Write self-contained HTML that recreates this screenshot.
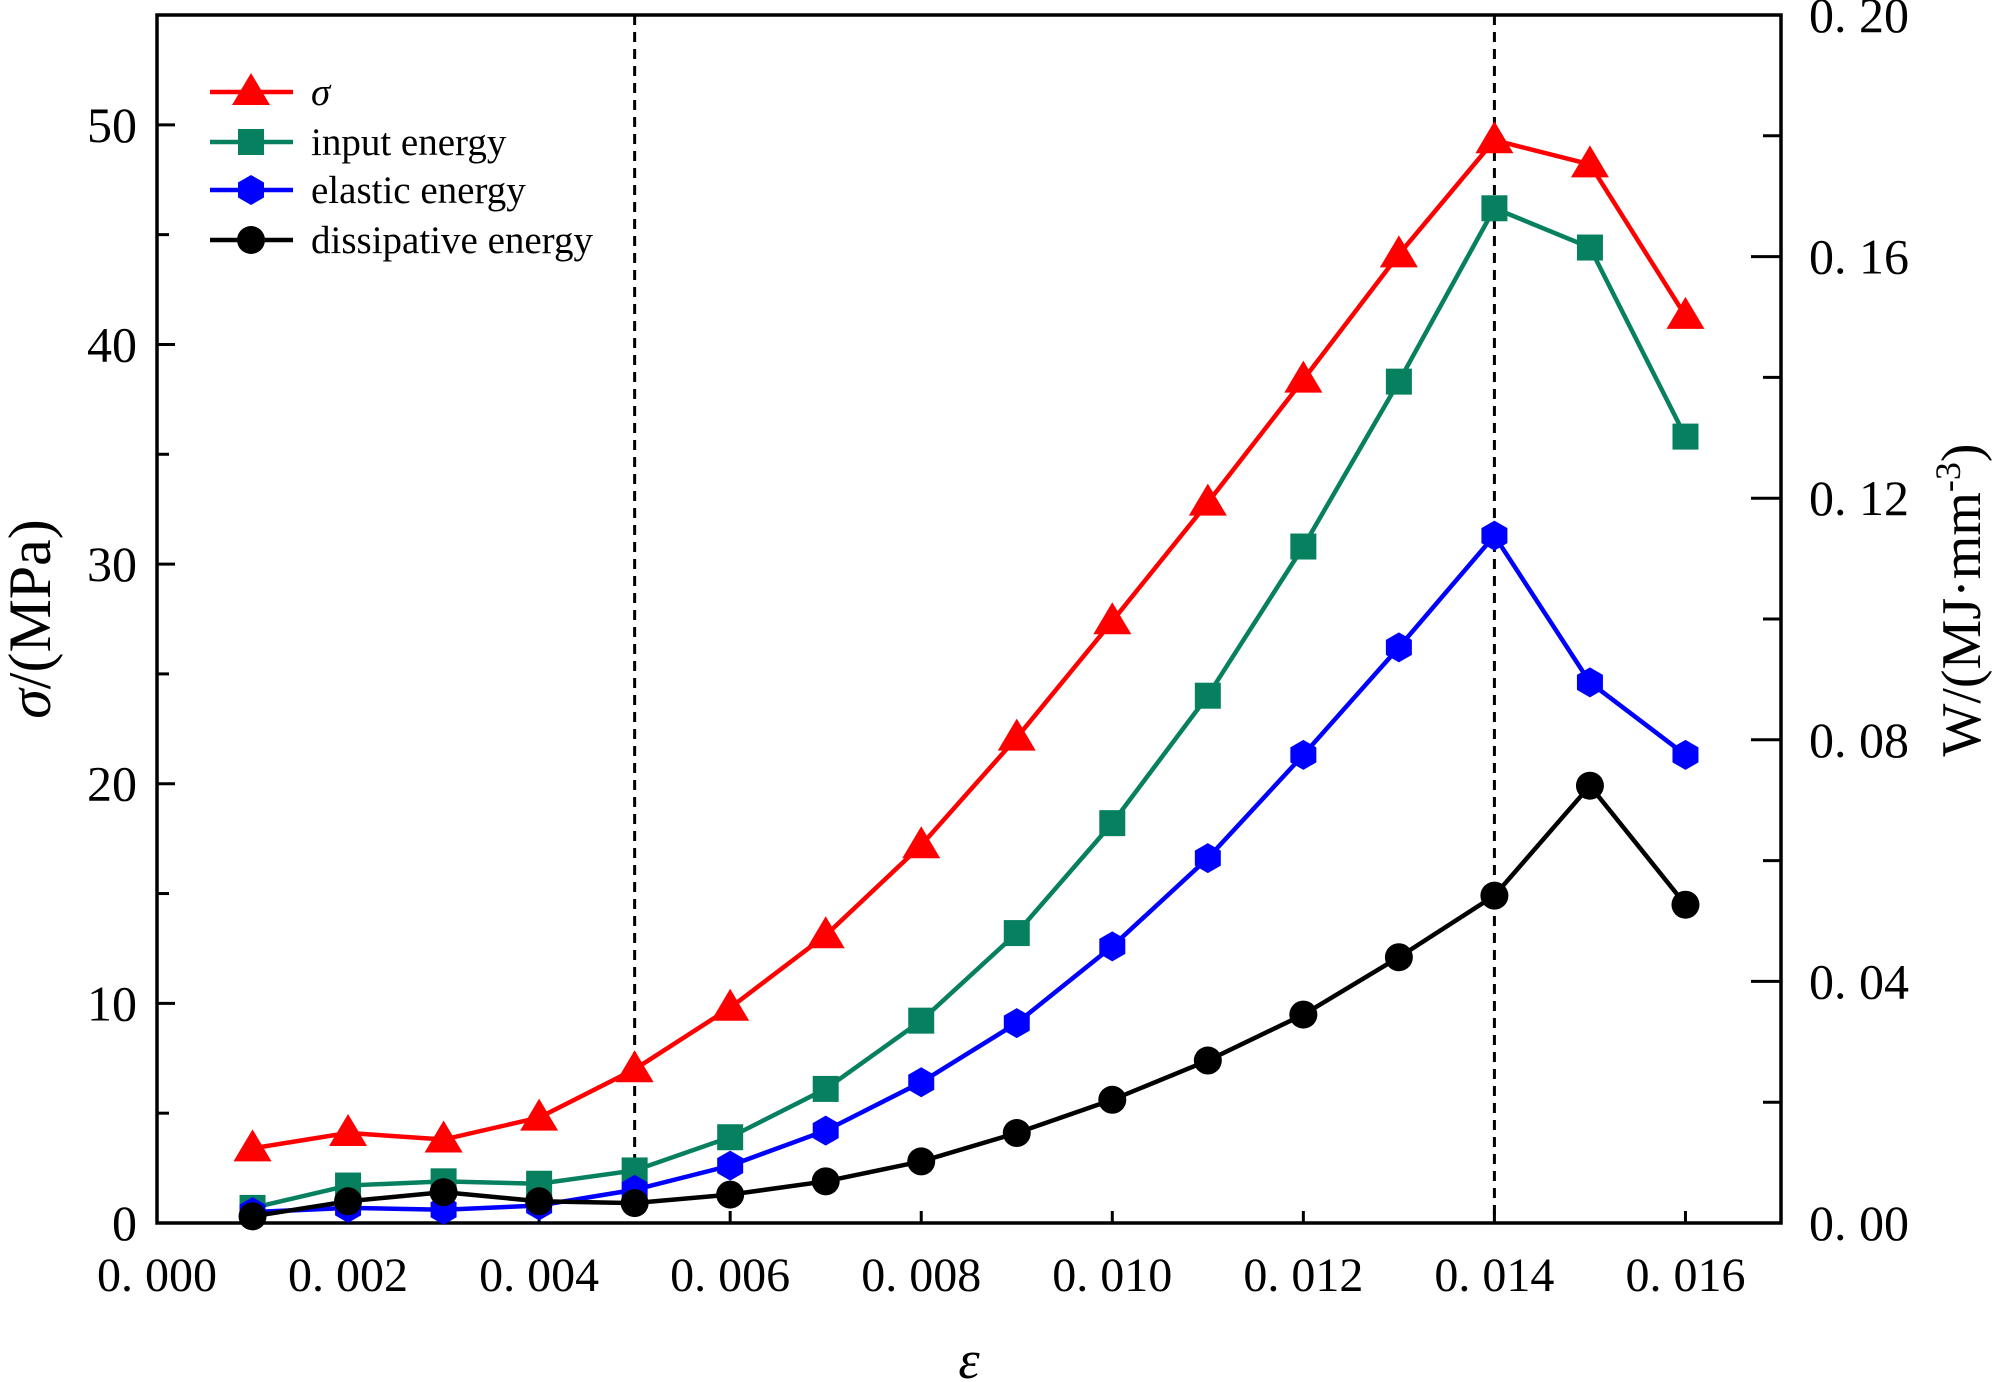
<!DOCTYPE html>
<html><head><meta charset="utf-8"><style>
html,body{margin:0;padding:0;background:#fff;}
svg{display:block;font-family:"Liberation Serif","Noto Serif CJK SC",serif;}
</style></head><body>
<svg id="chart" width="2000" height="1382" viewBox="0 0 2000 1382" xmlns="http://www.w3.org/2000/svg"></svg>
<script>
const strain=[0.001,0.002,0.003,0.004,0.005,0.006,0.007,0.008,0.009,0.010,0.011,0.012,0.013,0.014,0.015,0.016];
const stress=[3.4,4.1,3.8,4.8,7.0,9.8,13.1,17.2,22.1,27.4,32.8,38.4,44.1,49.3,48.2,41.3];
const inputEnergy=[0.0025,0.0062,0.0069,0.0065,0.0087,0.0142,0.0222,0.0335,0.048,0.0662,0.0873,0.112,0.1393,0.168,0.1615,0.1302];
const elasticEnergy=[0.0018,0.0025,0.0022,0.0029,0.0055,0.0095,0.0153,0.0233,0.0331,0.0458,0.0604,0.0775,0.0953,0.1138,0.0895,0.0775];
const dissipEnergy=[0.0011,0.0036,0.0051,0.0036,0.0033,0.0047,0.0069,0.0102,0.0149,0.0204,0.0269,0.0345,0.044,0.0542,0.0724,0.0527];
const xTicks=[0,0.002,0.004,0.006,0.008,0.010,0.012,0.014,0.016];
const xTickLabels=["0.000","0.002","0.004","0.006","0.008","0.010","0.012","0.014","0.016"];
const yTicks=[0,10,20,30,40,50];
const y2Ticks=[0,0.04,0.08,0.12,0.16,0.20];
const y2TickLabels=["0.00","0.04","0.08","0.12","0.16","0.20"];
const markLines=[0.005,0.014];

const L=157,R=1781,T=15,B=1223;
const X=v=>L+v/0.017*(R-L);
const Y=v=>B-v/55*(B-T);
const Y2=v=>B-v/0.2*(B-T);
const svg=document.getElementById('chart');
const NS='http://www.w3.org/2000/svg';
function mk(tag,attrs,parent){const e=document.createElementNS(NS,tag);for(const k in attrs)e.setAttribute(k,attrs[k]);(parent||svg).appendChild(e);return e;}

markLines.forEach(v=>{const e=mk('line',{x1:X(v),x2:X(v),y1:T,y2:B,stroke:'#000','stroke-width':3,'stroke-dasharray':'10,7'});

});

xTicks.forEach((v,i)=>{mk('line',{x1:X(v),x2:X(v),y1:B,y2:B-12,stroke:'#000','stroke-width':3});
const t=mk('text',{x:X(v),y:B+68,'font-size':48,'text-anchor':'middle'});t.textContent=xTickLabels[i].replace('.','. ');

});
for(let v=5;v<=55;v+=5){mk('line',{x1:L,x2:L+(v%10==0?18:12),y1:Y(v),y2:Y(v),stroke:'#000','stroke-width':3});}
yTicks.forEach(v=>{const t=mk('text',{x:L-20,y:Y(v)+17,'font-size':50,'text-anchor':'end'});t.textContent=v;

});
for(let v=0.02;v<0.2;v+=0.02){const maj=Math.round(v*100)%4==0;mk('line',{x1:R,x2:R-(maj?30:18),y1:Y2(v),y2:Y2(v),stroke:'#000','stroke-width':3});}
y2Ticks.forEach((v,i)=>{const t=mk('text',{x:R+28,y:Y2(v)+17,'font-size':50});t.textContent=y2TickLabels[i].replace('.','. ');

});

const fr=mk('rect',{x:L,y:T,width:R-L,height:B-T,fill:'none',stroke:'#000','stroke-width':3.5});



function marker(type,x,y,color,g){
 if(type=='tri')mk('polygon',{points:`${x},${y-19} ${x-19},${y+13} ${x+19},${y+13}`,fill:color},g);
 else if(type=='sq')mk('rect',{x:x-13,y:y-13,width:26,height:26,fill:color},g);
 else if(type=='hex'){let p=[];for(let k=0;k<6;k++){const a=Math.PI/3*k+Math.PI/6;p.push((x+15*Math.cos(a))+','+(y+15*Math.sin(a)));}mk('polygon',{points:p.join(' '),fill:color},g);}
 else mk('circle',{cx:x,cy:y,r:14,fill:color},g);
}
const series=[
 {name:'stress-series',vals:stress,ys:Y,color:'#f00',m:'tri'},
 {name:'input-energy-series',vals:inputEnergy,ys:Y2,color:'#078060',m:'sq'},
 {name:'elastic-energy-series',vals:elasticEnergy,ys:Y2,color:'#00f',m:'hex'},
 {name:'dissipative-energy-series',vals:dissipEnergy,ys:Y2,color:'#000',m:'circ'}];
series.forEach(s=>{const g=mk('g',{});
 
 
 mk('polyline',{points:s.vals.map((v,i)=>X(strain[i])+','+s.ys(v)).join(' '),fill:'none',stroke:s.color,'stroke-width':4.5},g);
 s.vals.forEach((v,i)=>marker(s.m,X(strain[i]),s.ys(v),s.color,g));});

const legNames=['σ','input energy','elastic energy','dissipative energy'];
const legY=[92,142,190,240];
const lg=mk('g',{});


series.forEach((s,i)=>{const e=mk('g',{},lg);
 
 
 mk('line',{x1:210,x2:293,y1:legY[i],y2:legY[i],stroke:s.color,'stroke-width':4.5},e);
 marker(s.m,251,legY[i],s.color,e);
 const t=mk('text',{x:311,y:legY[i]+13,'font-size':39,'font-style':i==0?'italic':'normal'},e);t.textContent=legNames[i];});

let t=mk('text',{x:0,y:0,'font-size':60,'text-anchor':'middle',transform:'translate(50,619) rotate(-90)'});
t.innerHTML='<tspan font-style="italic">σ</tspan>/(MPa)';


t=mk('text',{x:0,y:0,'font-size':56,'text-anchor':'middle',transform:'translate(1980,600) rotate(-90)'});
t.innerHTML='W/(MJ·mm<tspan dy="-20" font-size="36">-3</tspan><tspan dy="20">)</tspan>';


t=mk('text',{x:969,y:1378,'font-size':54,'font-style':'italic','text-anchor':'middle'});
t.textContent='ε';


</script>
</body></html>
